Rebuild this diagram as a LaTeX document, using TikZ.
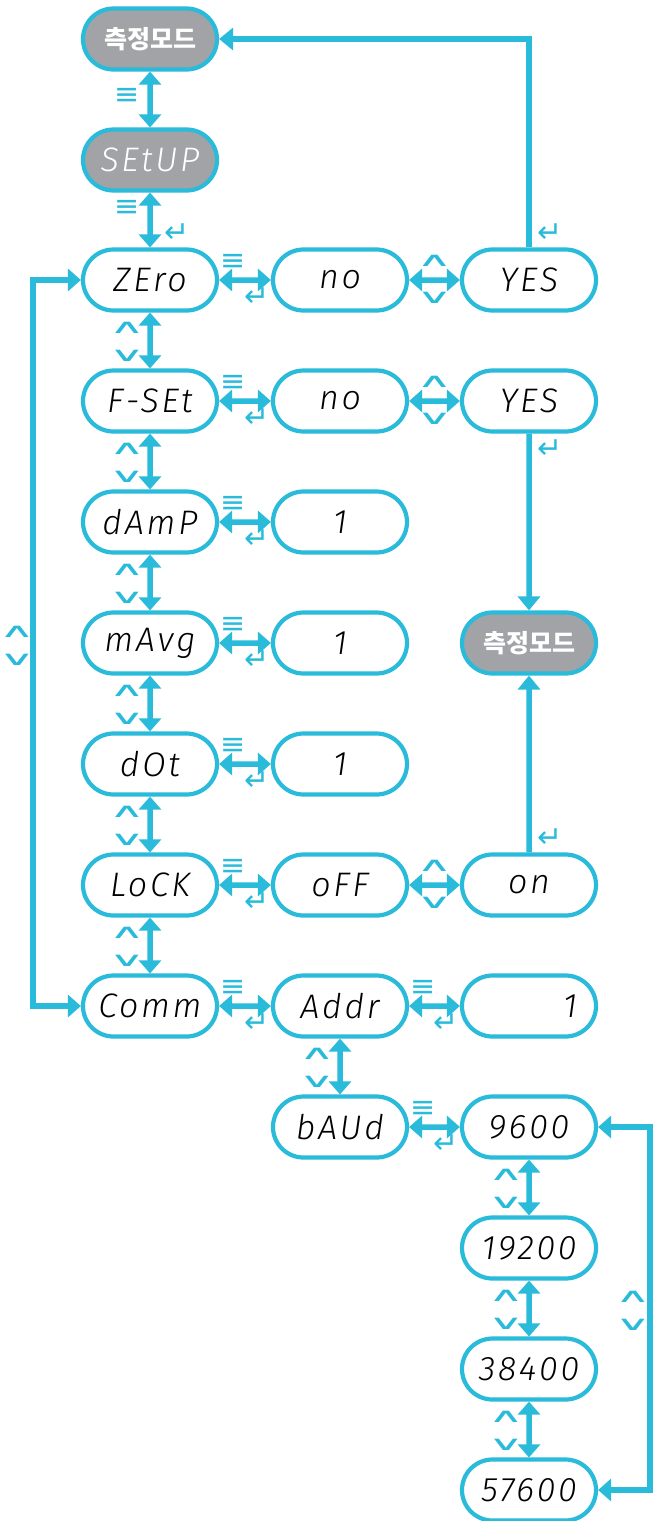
\documentclass[tikz,border=0pt]{standalone}
\usepackage{fontspec}
\usepackage{graphicx}
\usetikzlibrary{arrows.meta,shapes.misc}
\newfontfamily\lcd{Fira Sans Light Italic}[LetterSpace=8]
\newfontfamily\kor{Noto Sans CJK KR}
\newfontfamily\sym{DejaVu Sans}
\definecolor{keycyan}{HTML}{2ABBDA}
\definecolor{modegray}{HTML}{A2A3A7}
\newcommand\keyup{\scalebox{1.9}[.75]{∧}}
\newcommand\keydown{\scalebox{1.9}[.75]{∨}}

\begin{document}
\begin{tikzpicture}[x=1pt,y=-1pt,
  disp/.style={rounded rectangle,draw=keycyan,line width=4.2pt,fill=white,minimum width=134pt,minimum height=61pt,inner sep=0pt,font=\lcd\fontsize{34}{34}\selectfont},
  mode/.style={disp,fill=modegray,text=white},
  hangul/.style={font=\kor\bfseries\fontsize{25}{25}\selectfont},
  link/.style={draw=keycyan,line width=5.5pt,{Triangle[length=13pt,width=22pt]}-{Triangle[length=13pt,width=22pt]}},
  go/.style={draw=keycyan,line width=5.5pt,-{Triangle[length=14pt,width=22pt]}},
  key/.style={text=keycyan,inner sep=0pt,anchor=center,font=\sym\fontsize{30}{30}\selectfont},
  chev/.style={key,font=\sym\fontsize{26}{26}\selectfont}]
\useasboundingbox[fill=white] (0,0) rectangle (653,1521);

% main menu column
\node[mode,hangul] (meas) at (150,39) {측정모드};
\node[mode] (setup) at (150,160) {SEtUP};
\node[disp] (zero) at (150,280) {ZEro};
\node[disp] (fset) at (150,401) {F-SEt};
\node[disp] (damp) at (150,522) {dAmP};
\node[disp] (mavg) at (150,643) {mAvg};
\node[disp] (dot) at (150,764) {dOt};
\node[disp] (lock) at (150,885) {LoCK};
\node[disp] (comm) at (150,1006) {Comm};

% values
\node[disp] (zno) at (340,280) {no};
\node[disp] (fno) at (340,401) {no};
\node[disp] (dampval) at (340,522) {1};
\node[disp] (mavgval) at (340,643) {1};
\node[disp] (dotval) at (340,764) {1};
\node[disp] (lockoff) at (340,885) {oFF};
\node[disp] (addr) at (340,1006) {Addr};
\node[disp] (baud) at (340,1127) {bAUd};

\node[disp] (zyes) at (529,280) {YES};
\node[disp] (fyes) at (529,401) {YES};
\node[mode,hangul] (meas2) at (529,643) {측정모드};
\node[disp] (lockon) at (529,885) {on};
\node[disp] (addrval) at (529,1006) {\makebox[96pt][r]{1}};
\node[disp] (b9600) at (529,1127) {9600};
\node[disp] (b19200) at (529,1248) {19200};
\node[disp] (b38400) at (529,1369) {38400};
\node[disp] (b57600) at (529,1490) {57600};

% menu column links
\draw[link] (meas) -- node[key,pos=.45,xshift=-23pt] {≡} (setup);
\draw[link] (setup) -- node[key,pos=.28,xshift=-23pt] {≡} node[key,pos=.73,xshift=27pt] {↵} (zero);
\draw[link] (zero) -- node[chev,pos=.28,xshift=-23pt] {\keyup} node[chev,pos=.78,xshift=-23pt] {\keydown} (fset);
\draw[link] (fset) -- node[chev,pos=.28,xshift=-23pt] {\keyup} node[chev,pos=.78,xshift=-23pt] {\keydown} (damp);
\draw[link] (damp) -- node[chev,pos=.28,xshift=-23pt] {\keyup} node[chev,pos=.78,xshift=-23pt] {\keydown} (mavg);
\draw[link] (mavg) -- node[chev,pos=.28,xshift=-23pt] {\keyup} node[chev,pos=.78,xshift=-23pt] {\keydown} (dot);
\draw[link] (dot) -- node[chev,pos=.28,xshift=-23pt] {\keyup} node[chev,pos=.78,xshift=-23pt] {\keydown} (lock);
\draw[link] (lock) -- node[chev,pos=.28,xshift=-23pt] {\keyup} node[chev,pos=.78,xshift=-23pt] {\keydown} (comm);
\draw[link] (comm.west) -- ++(-48,0) |- (zero.west);
\node[chev] (loopup) at (17,632) {\keyup};
\node[chev] (loopdown) at (17,660) {\keydown};

% menu / enter to values
\draw[link] (zero) -- node[key,pos=.27,yshift=18pt] {≡} node[key,pos=.73,yshift=-17pt] {↵} (zno);
\draw[link] (fset) -- node[key,pos=.27,yshift=18pt] {≡} node[key,pos=.73,yshift=-17pt] {↵} (fno);
\draw[link] (damp) -- node[key,pos=.27,yshift=18pt] {≡} node[key,pos=.73,yshift=-17pt] {↵} (dampval);
\draw[link] (mavg) -- node[key,pos=.27,yshift=18pt] {≡} node[key,pos=.73,yshift=-17pt] {↵} (mavgval);
\draw[link] (dot) -- node[key,pos=.27,yshift=18pt] {≡} node[key,pos=.73,yshift=-17pt] {↵} (dotval);
\draw[link] (lock) -- node[key,pos=.27,yshift=18pt] {≡} node[key,pos=.73,yshift=-17pt] {↵} (lockoff);
\draw[link] (comm) -- node[key,pos=.27,yshift=18pt] {≡} node[key,pos=.73,yshift=-17pt] {↵} (addr);
\draw[link] (addr) -- node[key,pos=.27,yshift=18pt] {≡} node[key,pos=.73,yshift=-17pt] {↵} (addrval);
\draw[link] (baud) -- node[key,pos=.27,yshift=18pt] {≡} node[key,pos=.73,yshift=-17pt] {↵} (b9600);

% up / down between values
\draw[link] (zno) -- node[chev,yshift=19pt] {\keyup} node[chev,yshift=-18pt] {\keydown} (zyes);
\draw[link] (fno) -- node[chev,yshift=19pt] {\keyup} node[chev,yshift=-18pt] {\keydown} (fyes);
\draw[link] (lockoff) -- node[chev,yshift=19pt] {\keyup} node[chev,yshift=-18pt] {\keydown} (lockon);
\draw[link] (addr) -- node[chev,pos=.28,xshift=-23pt] {\keyup} node[chev,pos=.78,xshift=-23pt] {\keydown} (baud);

% baud rates
\draw[link] (b9600) -- node[chev,pos=.28,xshift=-23pt] {\keyup} node[chev,pos=.78,xshift=-23pt] {\keydown} (b19200);
\draw[link] (b19200) -- node[chev,pos=.28,xshift=-23pt] {\keyup} node[chev,pos=.78,xshift=-23pt] {\keydown} (b38400);
\draw[link] (b38400) -- node[chev,pos=.28,xshift=-23pt] {\keyup} node[chev,pos=.78,xshift=-23pt] {\keydown} (b57600);
\draw[link] (b9600.east) -- ++(52,0) |- (b57600.east);
\node[chev] (baudup) at (633,1297) {\keyup};
\node[chev] (bauddown) at (633,1325) {\keydown};

% back to measuring mode
\draw[go] (zyes) |- node[key,pos=.035,xshift=21pt] {↵} (meas);
\draw[go] (fyes) -- node[key,pos=.085,xshift=21pt] {↵} (meas2);
\draw[go] (lockon) -- node[key,pos=.08,xshift=21pt] {↵} (meas2);
\end{tikzpicture}
\end{document}
